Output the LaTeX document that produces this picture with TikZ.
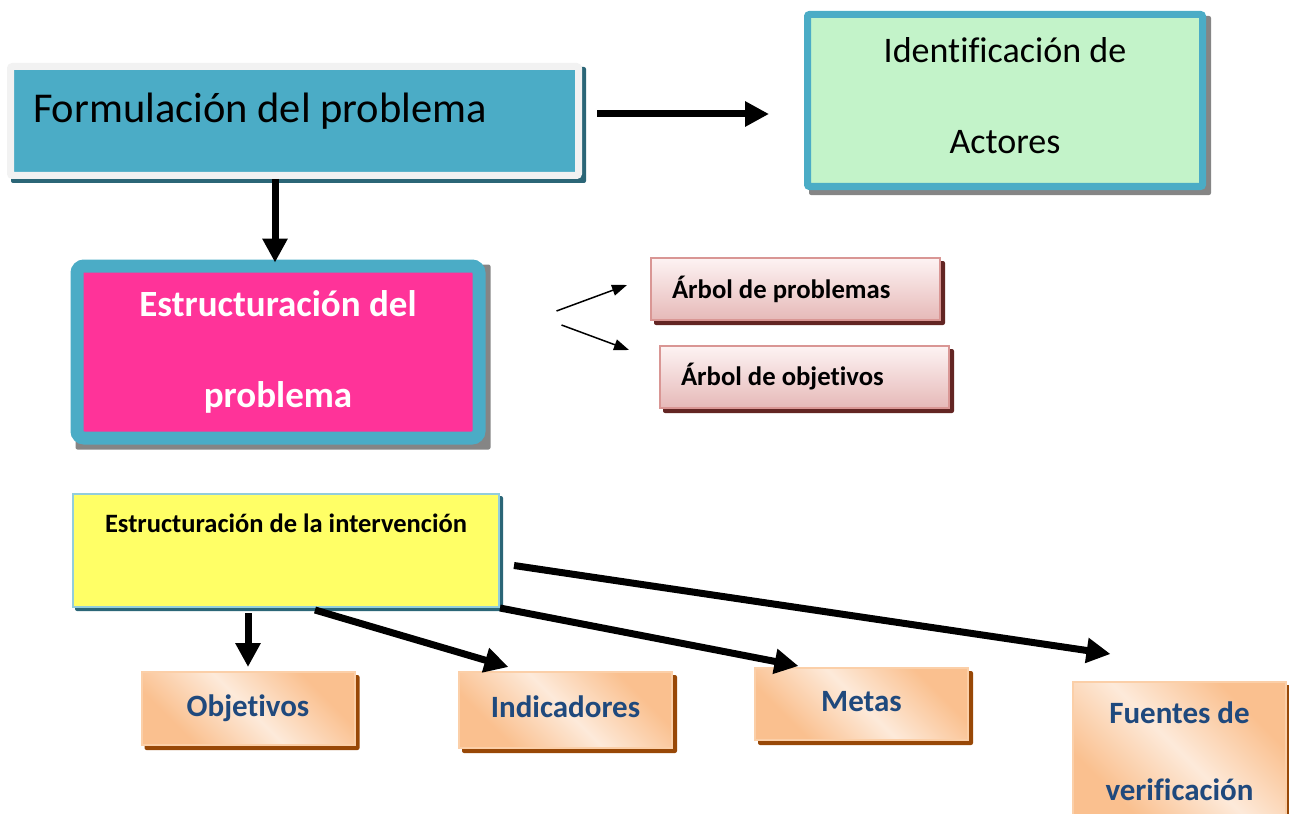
\documentclass[tikz,border=0pt]{standalone}
\usepackage{fontspec}
\setmainfont{Carlito}[Ligatures=NoCommon]
\usepackage{xcolor}
\usetikzlibrary{arrows.meta,backgrounds,calc}

\definecolor{tealbox}{HTML}{4BACC6}
\definecolor{tealshadow}{HTML}{2B6677}
\definecolor{greyrim}{HTML}{F2F2F2}
\definecolor{mint}{HTML}{C3F3C9}
\definecolor{hotpink}{HTML}{FF3399}
\definecolor{greyshadow}{HTML}{858585}
\definecolor{rosetop}{HTML}{FDF3F3}
\definecolor{rosebottom}{HTML}{E6B9B8}
\definecolor{roserim}{HTML}{D99694}
\definecolor{roseshadow}{HTML}{632523}
\definecolor{lemon}{HTML}{FFFF66}
\definecolor{lemonrim}{HTML}{92CDDC}
\definecolor{peachdark}{HTML}{FAC08F}
\definecolor{peachlight}{HTML}{FDEADA}
\definecolor{peachrim}{HTML}{FBCFA8}
\definecolor{peachshadow}{HTML}{984807}
\definecolor{navytext}{HTML}{1F497D}

\pgfdeclarehorizontalshading{peachdiag}{100bp}{color(0bp)=(peachdark); color(28bp)=(peachdark); color(50bp)=(peachlight); color(72bp)=(peachdark); color(100bp)=(peachdark)}

\tikzset{
  fatarrow/.style={line width=7pt, -{Triangle[length=24pt,width=24pt]}},
  thinarrow/.style={line width=1.5pt, -{Triangle[length=15pt,width=11pt]}},
  rosebox/.style={draw=roserim, line width=2pt, top color=rosetop, bottom color=rosebottom,
    minimum height=62pt, inner xsep=21pt, text width=247pt, align=flush left,
    font=\fontsize{26.7}{32}\selectfont\bfseries},
  peachbox/.style={draw=peachrim, line width=2pt, shade, shading=peachdiag, shading angle=45,
    minimum width=213pt, text=navytext, align=center, font=\fontsize{31}{37}\selectfont\bfseries},
  peachline/.style={peachbox, text height=22pt, text depth=7pt},
}

\begin{document}
\begin{tikzpicture}[x=1pt,y=-1pt]
\useasboundingbox (0,0) rectangle (1289,813);

% top row
\node[draw=greyrim, line width=7pt, fill=tealbox, rounded corners=2pt, minimum width=568pt, minimum height=109pt,
  text width=523pt, inner xsep=22.5pt, align=flush left, text height=30pt, text depth=26pt,
  font=\fontsize{42.5}{50}\selectfont] (formul) at (294.5,121) {Formulación del problema};
\node[draw=tealbox, line width=7pt, fill=mint, rounded corners=2pt, minimum width=395pt, minimum height=172pt,
  label={[name=identTxt, align=center, shift={(0,-5)}, font=\fontsize{36}{43}\selectfont]center:Identificación de\\[48pt]Actores}]
  (ident) at (1005,100.5) {};

% problem structure
\node[draw=tealbox, line width=13pt, fill=hotpink, rounded corners=7pt, minimum width=402pt, minimum height=172pt,
  align=center, text=white, font=\fontsize{37}{44}\selectfont\bfseries] (estr) at (278,352) {Estructuración del\\[47pt]problema};
\node[rosebox] (arbolP) at (795.5,289) {Árbol de problemas};
\node[rosebox] (arbolO) at (804.5,377) {Árbol de objetivos};

% intervention
\node[draw=lemonrim, line width=2pt, fill=lemon, minimum width=426pt, minimum height=113pt,
  text height=20pt, text depth=57pt, font=\fontsize{26.5}{31}\selectfont\bfseries] (interv) at (286,550.5) {Estructuración de la intervención};
\node[peachline, minimum height=73pt] (objet) at (248,708.5) {Objetivos};
\node[peachline, minimum height=76pt] (indic) at (565.5,710) {Indicadores};
\node[peachline, minimum height=72pt] (metas) at (861.5,704) {Metas};
\node[peachbox, minimum height=138pt] (fuentes) at (1179.5,751) {Fuentes de\\[40pt]verificación};

% shadows
\begin{scope}[on background layer]
  \foreach \n/\c/\s in {formul/tealshadow/4, ident/greyshadow/5, estr/greyshadow/5, arbolP/roseshadow/4,
      arbolO/roseshadow/4, interv/tealshadow/3, objet/peachshadow/4, indic/peachshadow/4,
      metas/peachshadow/4, fuentes/peachshadow/4}
    \fill[\c, rounded corners=2pt] ([shift={(\s,\s)}]\n.north west) rectangle ([shift={(\s,\s)}]\n.south east);
\end{scope}

% arrows
\draw[fatarrow] ([shift={(-3,0)}]estr.north |- formul.south) -- ([shift={(-3,3)}]estr.north);
\draw[fatarrow] ([shift={(15,-7)}]formul.east) -- ++(172,0);
\draw[thinarrow] ([shift={(71,-41)}]estr.east) -- ([shift={(-23,-4)}]arbolP.west);
\draw[thinarrow] ([shift={(76,-27)}]estr.east) -- ([shift={(-30,-27)}]arbolO.west);
\draw[fatarrow] ($(interv.south -| objet.north)+(0,5)$) -- ([shift={(0,-4)}]objet.north);
\draw[fatarrow] ([shift={(29,2)}]interv.south) -- ([shift={(-57,-4)}]indic.north);
\draw[fatarrow] (interv.south east) -- ([shift={(-63,-1)}]metas.north);
\draw[fatarrow] ([shift={(14,15)}]interv.east) -- ([shift={(-69,-27)}]fuentes.north);
\end{tikzpicture}
\end{document}
